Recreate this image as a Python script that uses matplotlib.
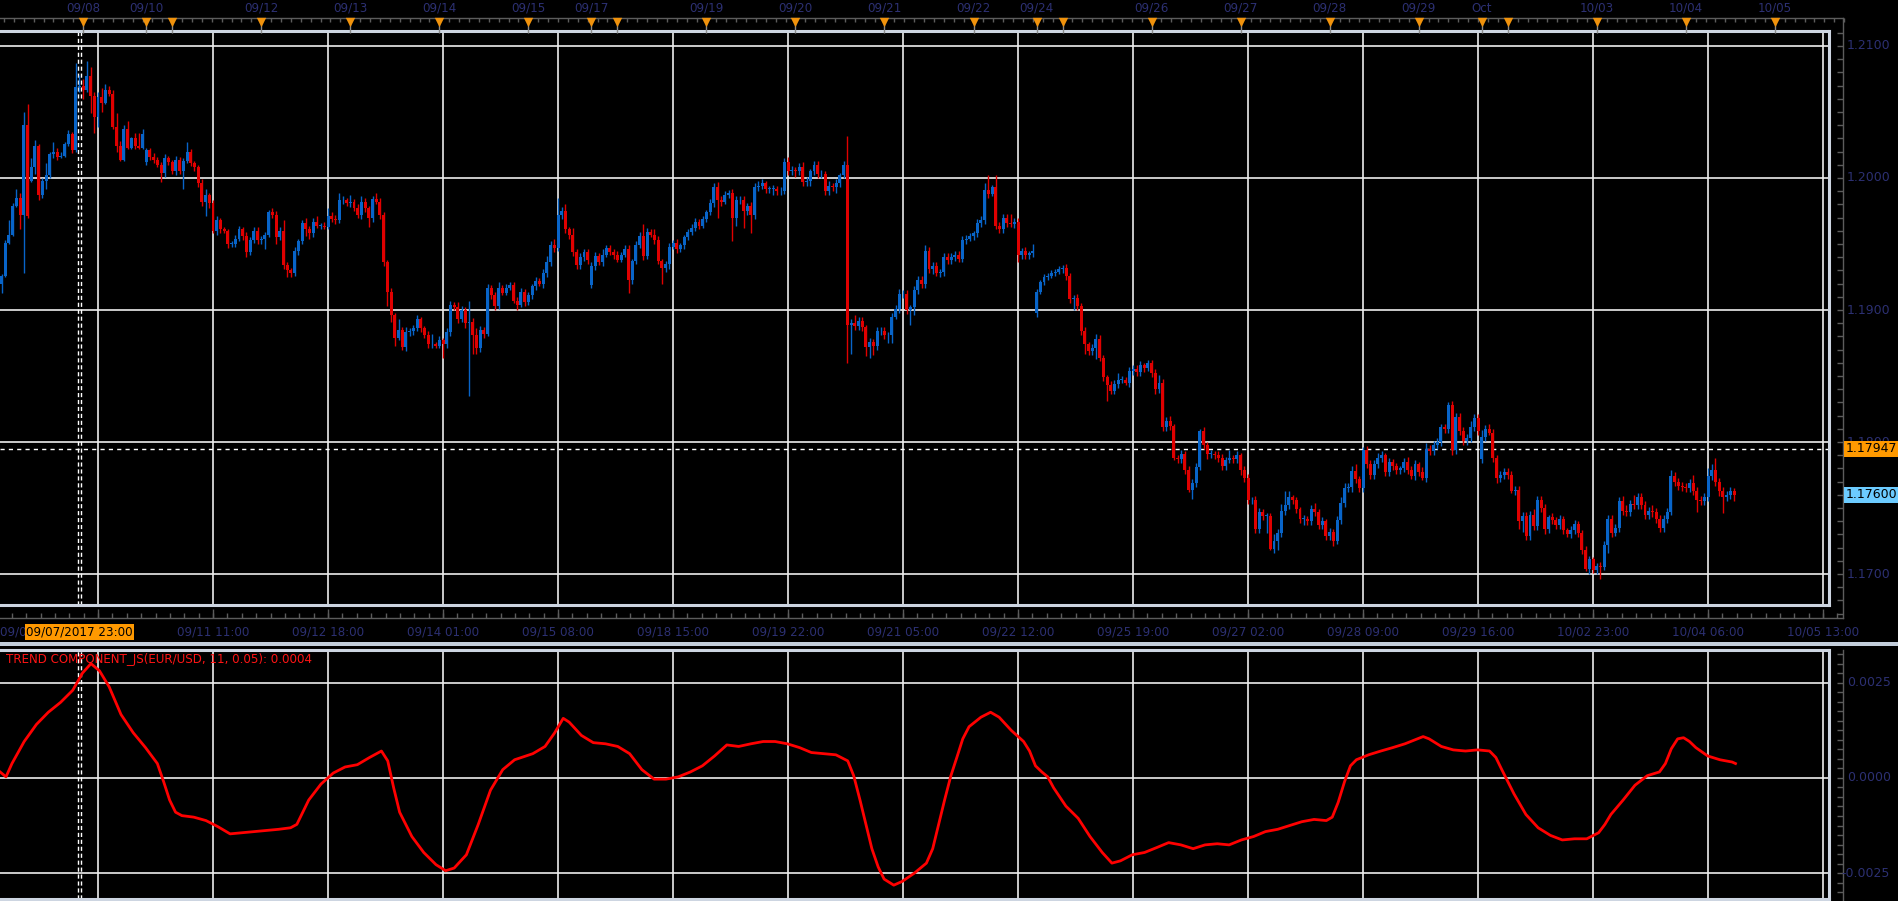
import numpy as np
import matplotlib
matplotlib.use("Agg")
import matplotlib.pyplot as plt
from matplotlib import font_manager
from matplotlib.transforms import blended_transform_factory as blend, Bbox
from matplotlib.patches import Rectangle

# ---------------- data ----------------
# hourly EUR/USD candles, prices in pips above 1.1700, bar 0 = 09/08 04:00
base = 1.1700
first_bar = -26
close_pips = [
    226, 251, 257, 279, 285, 272, 340, 271, 308, 324,
    287, 298, 302, 318, 320, 316, 317, 326, 333, 321,
    369, 370, 367, 377, 362, 346, 361, 357, 367, 364,
    339, 324, 314, 337, 323, 330, 324, 323, 333, 321,
    316, 314, 310, 304, 315, 312, 305, 314, 305, 313,
    320, 311, 308, 296, 282, 287, 281, 260, 268, 261,
    260, 250, 250, 254, 261, 256, 244, 253, 260, 253,
    254, 257, 274, 272, 255, 260, 234, 230, 228, 245,
    252, 266, 261, 258, 267, 264, 264, 263, 271, 269,
    268, 283, 283, 281, 282, 277, 272, 282, 277, 270,
    284, 282, 272, 236, 214, 196, 179, 185, 172, 183,
    184, 186, 193, 186, 181, 174, 174, 173, 177, 174,
    183, 204, 202, 193, 200, 190, 191, 181, 171, 185,
    182, 217, 211, 203, 217, 213, 217, 219, 207, 204,
    214, 206, 211, 218, 222, 220, 228, 236, 249, 247,
    272, 275, 261, 257, 244, 234, 240, 244, 238, 233,
    241, 236, 242, 247, 244, 242, 238, 242, 246, 223,
    237, 249, 256, 241, 259, 257, 253, 237, 232, 235,
    248, 251, 246, 249, 255, 259, 262, 267, 264, 269,
    274, 281, 293, 283, 282, 287, 289, 270, 283, 283,
    275, 279, 272, 293, 294, 296, 292, 292, 292, 290,
    290, 312, 305, 306, 305, 308, 297, 298, 305, 310,
    303, 303, 290, 294, 293, 296, 302, 310, 189, 190,
    188, 192, 187, 172, 176, 173, 184, 184, 181, 181,
    195, 201, 212, 212, 200, 202, 215, 223, 220, 245,
    231, 233, 228, 229, 240, 238, 240, 242, 239, 253,
    254, 256, 258, 266, 268, 291, 288, 293, 264, 261,
    270, 266, 265, 267, 242, 245, 242, 243, 245, 214,
    221, 225, 226, 228, 229, 231, 232, 226, 208, 209,
    203, 184, 174, 169, 171, 178, 164, 149, 143, 139,
    144, 147, 147, 145, 154, 155, 153, 158, 156, 160,
    152, 140, 145, 111, 116, 112, 88, 87, 91, 79,
    64, 69, 81, 108, 98, 91, 91, 90, 88, 82,
    86, 88, 87, 90, 79, 73, 56, 56, 34, 47,
    44, 44, 19, 25, 31, 48, 52, 58, 56, 49,
    42, 42, 40, 49, 47, 37, 40, 29, 32, 25,
    41, 54, 65, 66, 78, 72, 65, 94, 83, 75,
    83, 88, 90, 77, 85, 82, 79, 80, 85, 79,
    74, 83, 77, 73, 95, 93, 98, 100, 111, 110,
    128, 94, 119, 108, 101, 103, 111, 118, 108, 104,
    110, 107, 88, 73, 75, 77, 75, 63, 64, 40,
    44, 29, 45, 36, 56, 50, 34, 43, 41, 37,
    42, 33, 30, 33, 38, 31, 18, 4, 11, 3,
    6, 5, 22, 42, 31, 35, 55, 48, 47, 53,
    52, 58, 52, 45, 48, 47, 42, 35, 42, 47,
    74, 70, 67, 66, 65, 69, 63, 56, 55, 58,
    74, 79, 70, 63, 58, 60, 63, 60,
]
upper_wick = [
    1, 2, 11, 2, 7, 4, 10, 16, 7, 5,
    2, 2, 9, 2, 7, 3, 3, 1, 3, 2,
    18, 8, 5, 12, 7, 3, 4, 7, 4, 3,
    3, 10, 4, 3, 6, 1, 4, 10, 4, 2,
    2, 3, 2, 2, 3, 2, 2, 3, 2, 2,
    7, 2, 2, 2, 3, 5, 2, 2, 3, 2,
    2, 1, 2, 3, 3, 2, 3, 2, 3, 3,
    2, 2, 2, 3, 3, 3, 8, 2, 2, 3,
    2, 2, 4, 3, 3, 4, 2, 3, 6, 3,
    3, 6, 3, 2, 5, 2, 3, 4, 3, 2,
    2, 5, 3, 2, 2, 3, 2, 8, 2, 4,
    2, 3, 3, 2, 2, 3, 8, 2, 3, 2,
    3, 3, 2, 4, 3, 2, 16, 3, 5, 3,
    2, 3, 2, 3, 4, 2, 3, 2, 2, 3,
    3, 2, 3, 2, 3, 2, 3, 5, 3, 5,
    13, 3, 5, 2, 5, 2, 3, 2, 2, 3,
    3, 2, 4, 2, 2, 2, 3, 2, 3, 3,
    2, 3, 3, 9, 3, 2, 4, 3, 2, 2,
    3, 2, 3, 2, 2, 2, 3, 3, 2, 2,
    2, 3, 3, 4, 3, 3, 2, 3, 3, 3,
    3, 2, 3, 3, 4, 3, 2, 2, 3, 2,
    3, 3, 4, 3, 2, 3, 4, 3, 2, 3,
    3, 3, 2, 4, 2, 3, 2, 3, 22, 3,
    6, 3, 3, 2, 3, 2, 3, 3, 3, 2,
    3, 3, 4, 3, 3, 2, 3, 3, 3, 4,
    3, 3, 3, 2, 3, 3, 3, 3, 3, 3,
    3, 2, 2, 3, 3, 5, 11, 2, 9, 3,
    3, 3, 7, 3, 3, 2, 3, 2, 5, 2,
    2, 2, 2, 2, 2, 2, 2, 3, 2, 2,
    3, 2, 3, 2, 3, 4, 3, 2, 2, 3,
    3, 5, 3, 2, 3, 3, 3, 3, 2, 2,
    2, 3, 6, 3, 3, 4, 2, 2, 3, 2,
    3, 3, 3, 2, 3, 2, 3, 2, 3, 3,
    3, 6, 2, 3, 2, 3, 3, 2, 3, 3,
    2, 2, 2, 5, 3, 5, 11, 5, 2, 2,
    2, 3, 2, 3, 5, 2, 3, 2, 3, 2,
    3, 4, 4, 3, 4, 5, 2, 2, 3, 3,
    3, 4, 3, 2, 3, 2, 2, 2, 3, 4,
    3, 3, 2, 4, 4, 3, 3, 3, 3, 3,
    2, 3, 3, 3, 3, 3, 5, 3, 3, 5,
    3, 4, 3, 2, 3, 3, 3, 3, 3, 3,
    3, 3, 3, 4, 3, 3, 3, 2, 3, 2,
    3, 2, 2, 3, 3, 2, 2, 3, 3, 2,
    2, 3, 3, 3, 3, 3, 3, 4, 4, 3,
    7, 3, 3, 3, 3, 4, 3, 3, 3, 3,
    5, 3, 3, 3, 3, 3, 6, 3, 3, 3,
    6, 4, 9, 3, 3, 3, 3, 2,
]
lower_wick = [
    7, 1, 1, 1, 1, 11, 44, 1, 1, 5,
    4, 2, 6, 2, 3, 2, 1, 1, 2, 2,
    1, 4, 7, 2, 13, 12, 7, 7, 1, 2,
    2, 4, 1, 1, 1, 1, 2, 1, 1, 2,
    2, 3, 2, 7, 3, 2, 2, 3, 2, 13,
    2, 2, 3, 3, 3, 11, 4, 2, 3, 3,
    2, 3, 2, 2, 2, 3, 4, 2, 2, 3,
    3, 8, 2, 2, 5, 2, 3, 5, 3, 2,
    3, 2, 5, 4, 3, 2, 3, 2, 2, 2,
    3, 2, 3, 2, 3, 2, 2, 3, 3, 7,
    3, 2, 3, 3, 11, 5, 6, 2, 2, 3,
    3, 3, 2, 3, 2, 3, 3, 2, 2, 10,
    3, 3, 2, 3, 2, 4, 55, 14, 4, 3,
    3, 2, 3, 3, 2, 2, 2, 2, 2, 4,
    2, 3, 2, 3, 3, 2, 3, 3, 3, 3,
    2, 3, 3, 3, 3, 3, 3, 3, 3, 2,
    3, 2, 3, 2, 2, 3, 2, 2, 2, 10,
    3, 2, 2, 3, 2, 2, 3, 2, 12, 3,
    4, 2, 3, 2, 3, 2, 2, 2, 3, 2,
    2, 2, 3, 13, 3, 2, 2, 18, 6, 3,
    13, 3, 14, 3, 3, 2, 3, 3, 5, 3,
    3, 2, 3, 3, 4, 3, 3, 3, 4, 3,
    3, 3, 3, 3, 3, 4, 3, 2, 29, 22,
    3, 3, 3, 7, 8, 7, 3, 3, 3, 6,
    6, 2, 3, 3, 3, 11, 6, 3, 3, 3,
    3, 4, 2, 3, 3, 3, 3, 3, 3, 3,
    3, 2, 3, 3, 3, 3, 3, 2, 3, 3,
    3, 3, 2, 3, 6, 3, 3, 3, 3, 3,
    2, 2, 2, 2, 2, 2, 3, 3, 3, 8,
    3, 3, 7, 3, 3, 8, 3, 3, 12, 3,
    3, 3, 2, 2, 3, 3, 3, 3, 3, 2,
    3, 4, 3, 3, 3, 3, 2, 3, 3, 3,
    2, 7, 3, 2, 3, 4, 3, 3, 3, 3,
    3, 2, 3, 3, 4, 3, 3, 3, 3, 3,
    3, 13, 1, 3, 7, 3, 3, 3, 3, 3,
    3, 5, 3, 3, 3, 3, 3, 3, 3, 4,
    2, 3, 3, 3, 4, 3, 3, 3, 3, 3,
    3, 3, 3, 3, 3, 3, 3, 3, 3, 3,
    2, 3, 3, 2, 3, 3, 3, 3, 3, 3,
    3, 4, 3, 3, 3, 3, 3, 3, 3, 3,
    3, 2, 3, 4, 3, 3, 3, 2, 3, 6,
    8, 3, 3, 3, 3, 3, 4, 3, 3, 3,
    3, 3, 2, 3, 3, 3, 3, 2, 4, 2,
    3, 9, 2, 6, 3, 2, 3, 3, 3, 3,
    3, 3, 3, 3, 3, 4, 3, 3, 3, 3,
    2, 3, 3, 3, 3, 3, 3, 9, 3, 3,
    3, 3, 3, 4, 12, 3, 3, 5,
]
# opens that differ from the previous close (weekend gaps etc.)
open_jump = {-26: 220, -18: 298, 13: 312, 133: 219, 253: 198, 373: 87}

# TREND COMPONENT indicator, value in units of 1e-4
trend_bar = [-26.4, -24.8, -23.2, -19.9, -16.6, -13.4, -10.1, -6.8, -4.2, -1.9,
             0.4, 3.0, 6.2, 9.5, 12.8, 16.0, 17.7, 19.3, 20.9, 22.6,
             25.8, 29.1, 32.3, 35.6, 38.9, 42.1, 45.4, 48.7, 51.9, 53.6,
             56.8, 60.1, 63.4, 66.6, 69.9, 73.2, 76.4, 78.1, 79.7, 81.3,
             84.6, 87.8, 91.1, 93.7, 96.0, 99.3, 102.5, 105.8, 109.1, 112.3,
             117.2, 120.5, 123.1, 125.4, 127.0, 130.3, 133.5, 136.8, 140.1, 143.3,
             146.6, 149.9, 153.1, 156.4, 159.7, 162.9, 166.2, 169.5, 172.7, 176.0,
             179.3, 182.5, 185.8, 189.1, 192.3, 195.6, 198.9, 202.1, 203.7, 205.4,
             207.0, 208.6, 210.3, 211.9, 214.5, 216.8, 220.1, 223.3, 225.0, 226.6,
             228.2, 229.9, 231.5, 233.1, 234.8, 238.0, 240.6, 242.9, 246.2, 249.5,
             251.1, 252.7, 254.4, 256.0, 257.6, 260.9, 264.2, 267.4, 270.7, 273.3,
             275.6, 278.8, 282.1, 285.4, 288.6, 291.9, 295.2, 298.4, 301.7, 304.9,
             308.2, 311.5, 314.7, 318.0, 321.3, 324.5, 327.8, 331.1, 332.7, 334.3,
             336.0, 337.6, 339.2, 342.5, 345.8, 349.0, 352.3, 355.6, 357.2, 358.8,
             362.1, 365.3, 368.6, 371.9, 375.1, 376.8, 378.4, 381.7, 384.9, 388.2,
             391.5, 394.7, 398.0, 401.3, 404.5, 406.2, 407.8, 411.1, 414.3, 417.6,
             420.9, 422.5, 424.1, 425.8, 427.4, 429.0, 430.7, 433.9, 437.2, 440.5,
             441.4]
trend_e4 = [1.6, 0.3, 3.8, 9.6, 14.1, 17.3, 19.9, 23.1, 27.6, 30.1,
            28.2, 24.0, 16.7, 11.9, 8.0, 3.8, -1.0, -5.8, -9.0, -9.9,
            -10.3, -11.2, -12.8, -14.7, -14.4, -14.1, -13.8, -13.5, -13.1, -12.2,
            -5.8, -1.6, 1.3, 2.9, 3.5, 5.4, 7.1, 4.5, -2.6, -9.0,
            -15.4, -19.6, -22.8, -24.4, -23.7, -20.2, -12.2, -3.2, 2.2, 4.8,
            6.4, 8.3, 11.9, 15.7, 14.7, 11.2, 9.3, 9.0, 8.3, 6.4,
            2.2, -0.3, -0.3, 0.3, 1.6, 3.2, 5.8, 8.7, 8.3, 9.0,
            9.6, 9.6, 9.0, 8.0, 6.7, 6.4, 6.1, 4.5, 0.6, -5.8,
            -12.2, -18.6, -23.4, -26.6, -28.2, -27.2, -25.0, -22.4, -18.6, -12.2,
            -5.8, 0.6, 5.4, 10.3, 13.5, 16.0, 17.3, 16.0, 12.5, 9.6,
            7.1, 3.2, 1.6, 0.3, -2.6, -7.4, -10.6, -15.4, -19.6, -22.4,
            -21.8, -20.2, -19.6, -18.3, -17.0, -17.6, -18.6, -17.6, -17.3, -17.6,
            -16.3, -15.4, -14.1, -13.5, -12.5, -11.5, -10.9, -11.2, -10.3, -6.4,
            -1.0, 3.2, 4.8, 6.1, 7.1, 8.0, 9.0, 10.3, 10.9, 10.3,
            8.3, 7.4, 7.1, 7.4, 7.1, 5.4, 2.2, -4.2, -9.6, -13.1,
            -15.1, -16.3, -16.0, -16.0, -14.4, -12.2, -9.6, -5.8, -1.9, 0.6,
            1.6, 3.8, 7.7, 10.3, 10.6, 9.6, 8.0, 5.8, 4.8, 4.2,
            3.8]

grid_bars = [0, 31, 62, 93, 124, 155, 186, 217, 248, 279, 310, 341, 372, 403, 434, 465]
time_labels = ['09/08 04:00', '09/11 11:00', '09/12 18:00', '09/14 01:00', '09/15 08:00',
               '09/18 15:00', '09/19 22:00', '09/21 05:00', '09/22 12:00', '09/25 19:00',
               '09/27 02:00', '09/28 09:00', '09/29 16:00', '10/02 23:00', '10/04 06:00',
               '10/05 13:00']
day_bars = [-4, 13, 20, 44, 68, 92, 116, 133, 140, 164, 188, 212, 236, 253, 260,
            284, 308, 332, 356, 373, 380, 404, 428, 452]
day_labels = ['09/08', '09/10', '', '09/12', '09/13', '09/14', '09/15', '09/17', '',
              '09/19', '09/20', '09/21', '09/22', '09/24', '', '09/26', '09/27', '09/28',
              '09/29', 'Oct', '', '10/03', '10/04', '10/05']
price_ticks = [1.17, 1.18, 1.19, 1.20, 1.21]
price_labels = ['1.1700', '1.1800', '1.1900', '1.2000', '1.2100']
trend_ticks = [-0.0025, 0.0, 0.0025]
trend_labels = ['-0.0025', '0.0000', '0.0025']
last_price = 1.17947
bid_price = 1.17600
cross_bar = -5
cross_text = '09/07/2017 23:00'
ind_text = 'TREND COMPONENT_JS(EUR/USD, 11, 0.05): 0.0004'

assert len(close_pips) == len(upper_wick) == len(lower_wick)
assert len(trend_bar) == len(trend_e4)

# ---------------- layout (pixels) ----------------
W, H = 1899, 901
main_top, main_bot = 31, 605
ind_top, ind_bot = 650, 899
frame_r = 1829
axis_x = 1843
xl = (-26.42, 466.6)

avail = {f.name for f in font_manager.fontManager.ttflist}
if 'Liberation Sans Narrow' in avail:
    fam, fs = 'Liberation Sans Narrow', 11.8
else:
    fam, fs = 'DejaVu Sans', 8.6
pfs = 9  # price scale font size
navy = '#2c3072'
blue, red = '#0864c8', '#e00000'
gridc = '#ededed'
framec = '#cdd5e1'
axc = '#5c5c5c'

fig = plt.figure(figsize=(W / 100, H / 100), dpi=100, facecolor='black')
ax = fig.add_axes([0, 1 - main_bot / H, frame_r / W, (main_bot - main_top) / H])
ax2 = fig.add_axes([0, 1 - ind_bot / H, frame_r / W, (ind_bot - ind_top) / H])

for a in (ax, ax2):
    a.set_facecolor('black')
    a.set_xlim(*xl)
    a.set_xticks([])
    a.set_yticks([])
    for s in ('top', 'right', 'bottom'):
        a.spines[s].set_color(framec)
        a.spines[s].set_linewidth(2.2)
    a.spines['left'].set_visible(False)
    for g in grid_bars:
        a.axvline(g, color=gridc, lw=1.2, zorder=0.5)
    for dx in (-0.4, 0.4):
        a.axvline(cross_bar + dx, color='white', lw=1.0, ls=(0, (3, 2)), zorder=0.6)

ax.set_ylim(1.167652, 1.211136)
ax2.set_ylim(-0.003184, 0.003368)
for p in price_ticks:
    ax.axhline(p, color=gridc, lw=1.2, zorder=0.5)
for p in trend_ticks:
    ax2.axhline(p, color=gridc, lw=1.2, zorder=0.5)
ax.axhline(last_price, color='white', lw=1.0, ls=(0, (3, 3)), zorder=0.7)

# candles
c = base + np.array(close_pips) / 1e4
bars = np.arange(first_bar, first_bar + len(c))
o = np.empty_like(c)
o[0] = c[0]
o[1:] = c[:-1]
for b, v in open_jump.items():
    o[b - first_bar] = base + v / 1e4
top = np.maximum(o, c)
bot = np.minimum(o, c)
hi = top + np.array(upper_wick) / 1e4
lo = bot - np.array(lower_wick) / 1e4
cols = np.where(c >= o, blue, red)
ax.vlines(bars, lo, hi, colors=cols, lw=1.0, zorder=2)
ax.bar(bars, np.maximum(top - bot, 0.00004), bottom=bot, width=0.8,
       color=cols, linewidth=0, zorder=3)

# indicator line
ax2.plot(trend_bar, np.array(trend_e4) / 1e4, color='#ff0000', lw=2.0, zorder=3)

# ---------------- overlay: axes lines, ticks, labels ----------------
ov = fig.add_axes([0, 0, 1, 1])
ov.set_xlim(0, W)
ov.set_ylim(H, 0)
ov.axis('off')
ov.patch.set_alpha(0)
bx = blend(ax.transData, ov.transData)
by = blend(ov.transData, ax.transData)
by2 = blend(ov.transData, ax2.transData)

ov.plot([0, axis_x], [18, 18], color=axc, lw=1)
ov.plot([axis_x, axis_x], [18, 618], color=axc, lw=1)
ov.plot([0, axis_x], [618, 618], color=axc, lw=1)
ov.plot([axis_x, axis_x], [ind_top, H], color=axc, lw=1)
ov.add_patch(Rectangle((0, 642), W, 4, color='#c3cedb', lw=0))

# top time scale
ov.vlines(np.arange(-28, 471, 8 / 3), 18, 22, color=axc, lw=1, transform=bx)
ov.vlines(day_bars, 18, 33, color='#8a8a8a', lw=1, transform=bx)
ov.scatter(day_bars, [22] * len(day_bars), marker='v', s=46, color='#f0920c',
           linewidths=0, transform=bx, zorder=5)
for b, lab in zip(day_bars, day_labels):
    ov.text(b, 8, lab, transform=bx, ha='center', va='center', color=navy,
            fontsize=fs, family=fam)

# bottom time scale
ov.vlines(np.arange(-31, 470, 31 / 8), 613, 618, color=axc, lw=1, transform=bx)
ov.vlines(grid_bars, 609, 618, color=axc, lw=1, transform=bx)
for b, lab in zip(grid_bars[1:], time_labels[1:]):
    ov.text(b, 632, lab, transform=bx, ha='center', va='center', color=navy,
            fontsize=fs, family=fam)
# first label sits under the crosshair label, only its start shows
first = ov.text(0, 632, time_labels[0], ha='left', va='center', color=navy,
                fontsize=fs, family=fam)
first.set_clip_box(Bbox.from_extents(0, 0, 27, H))
first.set_clip_on(True)
ov.text(cross_bar, 632, cross_text, transform=bx, ha='center', va='center',
        color='black', fontsize=fs, family=fam, zorder=6,
        bbox=dict(boxstyle='square,pad=0.12', fc='#ff9900', ec='none'))

# right price scale
ov.hlines(np.arange(1.167, 1.2112, 0.001), axis_x - 6, axis_x, color=axc, lw=1, transform=by)
for p, lab in zip(price_ticks, price_labels):
    ov.text(axis_x + 4, p, lab, transform=by, ha='left', va='center', color=navy,
            fontsize=pfs)
ov.text(axis_x + 3, last_price, '%.5f' % last_price, transform=by, ha='left', va='center',
        color='black', fontsize=pfs, zorder=6,
        bbox=dict(boxstyle='square,pad=0.12', fc='#ff9900', ec='none'))
ov.text(axis_x + 3, bid_price, '%.5f' % bid_price, transform=by, ha='left', va='center',
        color='black', fontsize=pfs, zorder=6,
        bbox=dict(boxstyle='square,pad=0.12', fc='#6ccbff', ec='none'))

# indicator scale
ov.hlines(np.arange(-0.00325, 0.0034, 0.00025), axis_x - 6, axis_x, color=axc, lw=1,
          transform=by2)
for p, lab in zip(trend_ticks, trend_labels):
    ov.text(axis_x + 4 - (6 if p < 0 else 0), p, lab, transform=by2, ha='left',
            va='center', color=navy, fontsize=pfs)
ov.text(6, 659, ind_text, ha='left', va='center', color='#ff1414', fontsize=fs, family=fam)

fig.savefig('out.png', dpi=100, facecolor='black')
